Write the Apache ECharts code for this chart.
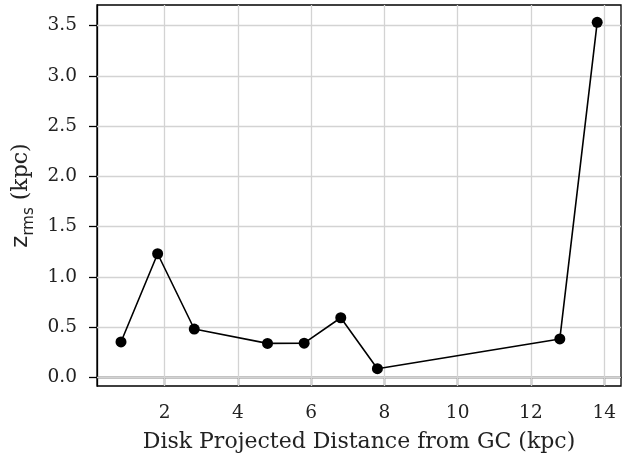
<!DOCTYPE html>
<html>
<head>
<meta charset="utf-8">
<script src="https://cdn.jsdelivr.net/npm/echarts@6/dist/echarts.min.js"></script>
<style>
  html, body { margin: 0; padding: 0; background: #fff; }
  #chart { width: 632px; height: 460px; }
</style>
</head>
<body>
<div id="chart"></div>
<script>
// Projected distance from the Galactic Centre (kpc) and rms height (kpc)
const distance = [0.81, 1.81, 2.81, 4.81, 5.81, 6.81, 7.81, 12.79, 13.81];
const zRms = [0.352, 1.23, 0.481, 0.338, 0.340, 0.593, 0.086, 0.382, 3.533];

const xTicks = [2, 4, 6, 8, 10, 12, 14];
const yTicks = [0.0, 0.5, 1.0, 1.5, 2.0, 2.5, 3.0, 3.5];

const serif = "'DejaVu Serif', serif";
const sans = "'DejaVu Sans', sans-serif";
const tickFont = 18.5;
const nameFont = 22;

const chart = echarts.init(document.getElementById('chart'), null, { renderer: 'canvas' });

// light grid at every labelled tick
const gridLines = []
  .concat(xTicks.map(v => ({ xAxis: v })))
  .concat(yTicks.map(v => ({ yAxis: v })));

chart.setOption({
  animation: false,
  backgroundColor: '#ffffff',
  grid: {
    left: 97, right: 11, top: 5, bottom: 74,
    show: true, borderColor: '#000', borderWidth: 1.3, backgroundColor: 'transparent'
  },
  xAxis: {
    type: 'value',
    min: 0.155, max: 14.46,
    axisLine: { show: true, lineStyle: { color: '#000', width: 1.3 } },
    axisTick: { show: true, inside: false, length: 8, customValues: xTicks, lineStyle: { color: '#000', width: 1.3 } },
    axisLabel: {
      customValues: xTicks, margin: 18,
      fontFamily: serif, fontSize: tickFont, color: '#222',
      formatter: v => String(v)
    },
    splitLine: { show: false },
    name: 'Disk Projected Distance from GC (kpc)',
    nameLocation: 'middle', nameGap: 45,
    nameTextStyle: { fontFamily: serif, fontSize: nameFont, color: '#222' }
  },
  yAxis: {
    type: 'value',
    min: -0.086, max: 3.705,
    axisLine: { show: true, lineStyle: { color: '#000', width: 1.3 } },
    axisTick: { show: true, inside: false, length: 8, customValues: yTicks, lineStyle: { color: '#000', width: 1.3 } },
    axisLabel: {
      customValues: yTicks, margin: 20,
      fontFamily: serif, fontSize: tickFont, color: '#222',
      formatter: v => v.toFixed(1)
    },
    splitLine: { show: false },
    name: '{z|z}{s|rms}{u| (kpc)}',
    nameLocation: 'middle', nameGap: 61, nameRotate: 90,
    nameTextStyle: {
      rich: {
        z: { fontFamily: sans, fontSize: 23, color: '#222', verticalAlign: 'bottom', lineHeight: 26 },
        s: { fontFamily: sans, fontSize: 15, color: '#222', verticalAlign: 'bottom', lineHeight: 16, padding: [0, 0, -4, 0] },
        u: { fontFamily: serif, fontSize: nameFont, color: '#222', verticalAlign: 'bottom', lineHeight: 26 }
      }
    }
  },
  series: [
    {
      type: 'line',
      data: [],
      silent: true,
      markLine: {
        silent: true,
        symbol: ['none', 'none'],
        label: { show: false },
        lineStyle: { color: '#d3d3d3', width: 1.3, type: 'solid' },
        emphasis: { disabled: true },
        data: gridLines,
        animation: false
      },
      z: 1
    },
    {
      type: 'line',
      data: distance.map((d, i) => [d, zRms[i]]),
      symbol: 'circle',
      symbolSize: 11,
      itemStyle: { color: '#000' },
      lineStyle: { color: '#000', width: 1.6 },
      z: 5
    }
  ]
});
</script>
</body>
</html>
